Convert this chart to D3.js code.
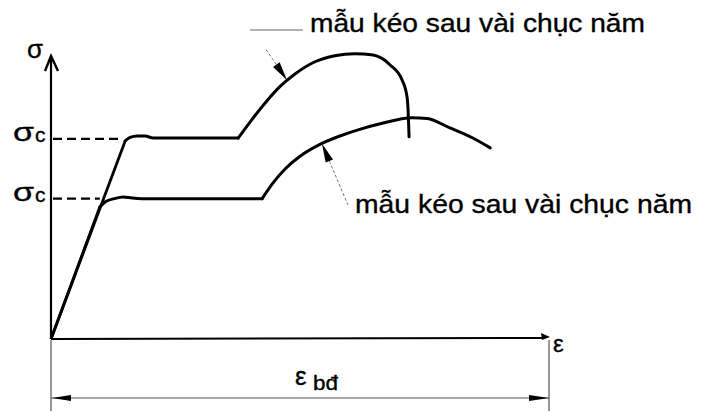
<!DOCTYPE html>
<html>
<head>
<meta charset="utf-8">
<script src="https://cdn.jsdelivr.net/npm/d3@7"></script>
<style>
  body { margin: 0; background: #fff; }
  text { font-family: "Liberation Sans", Arial, sans-serif; fill: #000; stroke: #000; stroke-width: 0.35; }
</style>
</head>
<body>
<div id="vis-container"></div>
<script>
//curve data (strain, stress), arbitrary units
const upperStrain = [0, 14.9, 15.9, 17.3, 18.9, 20.5, 37.6, 40.0, 43.0, 46.0, 49.0, 53.0, 57.0, 61.0, 64.7, 68.1, 70.5, 71.5, 71.7, 71.9];
const upperStress = [0, 68.3, 69.5, 70.0, 70.0, 69.3, 69.3, 74.9, 81.4, 87.1, 91.4, 95.6, 97.7, 98.4, 97.9, 94.5, 89.3, 83.4, 79.0, 69.7];
const upperCorners = [14.9, 37.6];

const lowerStrain = [0, 9.8, 11.0, 12.7, 14.5, 16.3, 18.3, 42.4, 44.4, 47.0, 50.0, 54.0, 58.0, 62.0, 66.1, 72.5, 75.5, 80.1, 84.7, 88.2];
const lowerStress = [0, 45.5, 47.4, 48.4, 49.0, 48.6, 48.4, 48.4, 53.4, 58.6, 63.0, 67.1, 70.0, 72.3, 74.2, 76.3, 76.0, 72.8, 69.3, 65.9];
const lowerCorners = [9.8, 42.4];

//yield levels (sigma c) and where the dashed guide stops
const yieldLevels = [69.0, 48.4];
const yieldDashEnd = [13.5, 9.8];

//label texts
const curveLabels = ["mẫu kéo sau vài chục năm", "mẫu kéo sau vài chục năm"];
const yieldLabel = ["σ", "c"];
const axisLabels = {y: "σ", x: "ε", dim: "ε", dimSub: "bđ"};

//points on the curves the annotation arrows point at
const arrowTips = [[47.4, 89.2], [54.4, 67.4]];

let width = 707, height = 412;

let svg = d3.select("#vis-container")
  .append("svg")
  .attr("width", width)
  .attr("height", height);

//scales
let x = d3.scaleLinear().domain([0, 100]).range([51, 549]);
let y = d3.scaleLinear().domain([0, 100]).range([339, 49]);

let toPts = (xs, ys) => xs.map((d, i) => [d, ys[i]]);
let upper = toPts(upperStrain, upperStress);
let lower = toPts(lowerStrain, lowerStress);

let straight = d3.line().x(d => x(d[0])).y(d => y(d[1]));
let smooth = d3.line().x(d => x(d[0])).y(d => y(d[1])).curve(d3.curveMonotoneX);

//axes
let axisTop = 97.6;
svg.append("line")
  .attr("x1", x(0)).attr("y1", y(0))
  .attr("x2", x(0)).attr("y2", y(axisTop))
  .attr("stroke", "#000").attr("stroke-width", 2.2);
svg.append("path")
  .attr("d", `M${x(0) - 6},${y(axisTop) + 15} L${x(0)},${y(axisTop)} L${x(0) + 7},${y(axisTop) + 15}`)
  .attr("fill", "none").attr("stroke", "#000").attr("stroke-width", 2.4);

svg.append("line")
  .attr("x1", x(0)).attr("y1", y(0))
  .attr("x2", x(100) - 6).attr("y2", y(0) - 1)
  .attr("stroke", "#000").attr("stroke-width", 2);
svg.append("path")
  .attr("d", `M${x(100) + 1},${y(0) - 2} L${x(100) - 8},${y(0) - 6} L${x(100) - 7},${y(0) + 1} Z`)
  .attr("fill", "#000");

//yield dashed guides
svg.selectAll("line.yield")
  .data(yieldLevels)
  .enter()
  .append("line")
  .attr("class", "yield")
  .attr("x1", x(0) + 2)
  .attr("x2", (d, i) => x(yieldDashEnd[i]))
  .attr("y1", d => y(d))
  .attr("y2", d => y(d))
  .attr("stroke", "#000")
  .attr("stroke-width", 2.4)
  .attr("stroke-dasharray", "9,5");

//curves: straight elastic part, then smooth pieces split at the corners
function drawCurve(pts, corners) {
  let c0 = pts.findIndex(d => d[0] === corners[0]);
  let c1 = pts.findIndex(d => d[0] === corners[1]);
  svg.append("path")
    .attr("d", straight(pts.slice(0, c0 + 1)))
    .attr("fill", "none").attr("stroke", "#000").attr("stroke-width", 2.8);
  [pts.slice(c0, c1 + 1), pts.slice(c1)].forEach(seg => {
    svg.append("path")
      .attr("d", smooth(seg))
      .attr("fill", "none").attr("stroke", "#000").attr("stroke-width", 3)
      .attr("stroke-linecap", "round");
  });
}
drawCurve(upper, upperCorners);
drawCurve(lower, lowerCorners);

//yield labels
yieldLevels.forEach(v => {
  svg.append("text")
    .attr("x", 13).attr("y", y(v) + 2)
    .attr("font-size", 26)
    .attr("textLength", 21).attr("lengthAdjust", "spacingAndGlyphs")
    .text(yieldLabel[0]);
  svg.append("text")
    .attr("x", 35).attr("y", y(v) + 3)
    .attr("font-size", 21)
    .text(yieldLabel[1]);
});

//axis labels
svg.append("text").attr("x", 27).attr("y", 58).attr("font-size", 26).text(axisLabels.y);
svg.append("text").attr("x", 553).attr("y", 352).attr("font-size", 24).text(axisLabels.x);

//dimension line under the axis
let dimY = 398;
[0, 100].forEach(v => {
  svg.append("line")
    .attr("x1", x(v)).attr("x2", x(v))
    .attr("y1", y(0) + 1).attr("y2", 411)
    .attr("stroke", "#333").attr("stroke-width", 1);
});
svg.append("line")
  .attr("x1", x(0)).attr("x2", x(100))
  .attr("y1", dimY).attr("y2", dimY)
  .attr("stroke", "#555").attr("stroke-width", 1);
svg.append("path")
  .attr("d", `M${x(0) + 1},${dimY} L${x(0) + 20},${dimY - 3} L${x(0) + 20},${dimY + 3} Z`)
  .attr("fill", "#000");
svg.append("path")
  .attr("d", `M${x(100)},${dimY} L${x(100) - 20},${dimY - 3} L${x(100) - 20},${dimY + 3} Z`)
  .attr("fill", "#000");
svg.append("text").attr("x", 295).attr("y", 385).attr("font-size", 26).text(axisLabels.dim);
svg.append("text").attr("x", 313).attr("y", 390).attr("font-size", 20)
  .attr("textLength", 25).attr("lengthAdjust", "spacingAndGlyphs")
  .text(axisLabels.dimSub);

//curve labels
svg.append("text")
  .attr("x", 310).attr("y", 32).attr("font-size", 26)
  .attr("textLength", 335).attr("lengthAdjust", "spacingAndGlyphs")
  .text(curveLabels[0]);
svg.append("text")
  .attr("x", 355).attr("y", 213).attr("font-size", 26)
  .attr("textLength", 337).attr("lengthAdjust", "spacingAndGlyphs")
  .text(curveLabels[1]);

//annotation leaders
function leader(tip, tail) {
  let tx = x(tip[0]), ty = y(tip[1]);
  let ang = Math.atan2(tail[1] - ty, tail[0] - tx);
  let len = 19, hw = 4;
  let bx = tx + Math.cos(ang) * len, by = ty + Math.sin(ang) * len;
  let px = -Math.sin(ang) * hw, py = Math.cos(ang) * hw;
  svg.append("path")
    .attr("d", `M${tx},${ty} L${bx + px},${by + py} L${bx - px},${by - py} Z`)
    .attr("fill", "#000");
  svg.append("line")
    .attr("x1", bx).attr("y1", by).attr("x2", tail[0]).attr("y2", tail[1])
    .attr("stroke", "#777").attr("stroke-width", 1)
    .attr("stroke-dasharray", "3,2");
}
leader(arrowTips[0], [265, 48]);
leader(arrowTips[1], [348, 205]);

svg.append("line")
  .attr("x1", 250).attr("x2", 303).attr("y1", 30).attr("y2", 30)
  .attr("stroke", "#666").attr("stroke-width", 1);
</script>
</body>
</html>
